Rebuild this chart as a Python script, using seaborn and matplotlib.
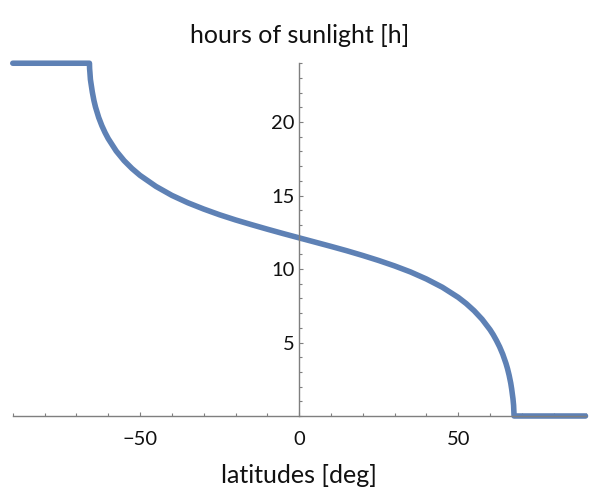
import matplotlib
matplotlib.use("Agg")
import matplotlib.pyplot as plt
from matplotlib.ticker import FixedLocator, MultipleLocator
import pandas as pd
import seaborn as sns

# values (latitude in degrees, daylight in hours)
latitudes = [-90, -65.9, -65.85, -65.75, -65.6, -65.35, -65, -64.5, -64, -63, -62, -61, -60,
             -57.5, -55, -52.5, -50, -45, -40, -35, -30, -25, -20, -15, -10, -5,
             0, 5, 10, 15, 20, 25, 30, 35, 40, 45, 50, 52.5, 55, 57.5,
             60, 61, 62, 63, 64, 65, 65.5, 66, 66.5, 66.8, 67, 67.2, 67.4, 67.55, 90]
hours = [24, 24, 23.62, 23.36, 22.90, 22.54, 22.04, 21.47, 21.02, 20.31, 19.75, 19.28, 18.87,
         18.03, 17.37, 16.83, 16.37, 15.62, 15.01, 14.51, 14.08, 13.69, 13.34, 13.02, 12.71, 12.41,
         12.12, 11.83, 11.54, 11.24, 10.92, 10.58, 10.21, 9.80, 9.32, 8.76, 8.07, 7.65, 7.16, 6.58,
         5.87, 5.53, 5.14, 4.71, 4.20, 3.58, 3.21, 2.77, 2.24, 1.83, 1.50, 1.18, 0.73, 0, 0]

x_major = [-50, 0, 50]
y_major = [5, 10, 15, 20]

df = pd.DataFrame({"lat": latitudes, "hours": hours})

sns.set_style("white")
plt.rcParams["font.family"] = ["Lato", "DejaVu Sans"]

axis_grey = "#7f7f7f"
text_col = "#111111"

fig = plt.figure(figsize=(5.94, 5.0), dpi=100)
ax = fig.add_axes([0.0215, 0.168, 0.9642, 0.707])

sns.lineplot(data=df, x="lat", y="hours", color="#5E81B5", linewidth=4.0,
             sort=False, ax=ax, clip_on=False)

ax.set_xlim(-90, 90)
ax.set_ylim(0, 24.05)

# Mathematica style axes crossing at the origin
ax.spines["left"].set_position(("data", 0))
ax.spines["bottom"].set_position(("data", 0))
ax.spines["top"].set_visible(False)
ax.spines["right"].set_visible(False)
for side in ["left", "bottom"]:
    ax.spines[side].set_color(axis_grey)
    ax.spines[side].set_linewidth(1.0)

ax.xaxis.set_major_locator(FixedLocator(x_major))
ax.xaxis.set_minor_locator(MultipleLocator(10))
ax.yaxis.set_major_locator(FixedLocator(y_major))
ax.yaxis.set_minor_locator(MultipleLocator(1))

ax.tick_params(which="both", direction="in", color=axis_grey, width=0.8,
               bottom=True, left=True, labelsize=14.5, labelcolor=text_col)
ax.tick_params(axis="x", which="major", length=3, pad=11)
ax.tick_params(axis="x", which="minor", length=2)
ax.tick_params(axis="y", which="major", length=3, pad=3)
ax.tick_params(axis="y", which="minor", length=2)

ax.set_title("hours of sunlight [h]", fontsize=18, pad=14, color=text_col)
ax.set_xlabel("latitudes [deg]", fontsize=18, color=text_col)
ax.xaxis.label.set_va("baseline")
ax.xaxis.set_label_coords(0.5, -0.19)
ax.set_ylabel("")

fig.savefig("out.png", dpi=100)
